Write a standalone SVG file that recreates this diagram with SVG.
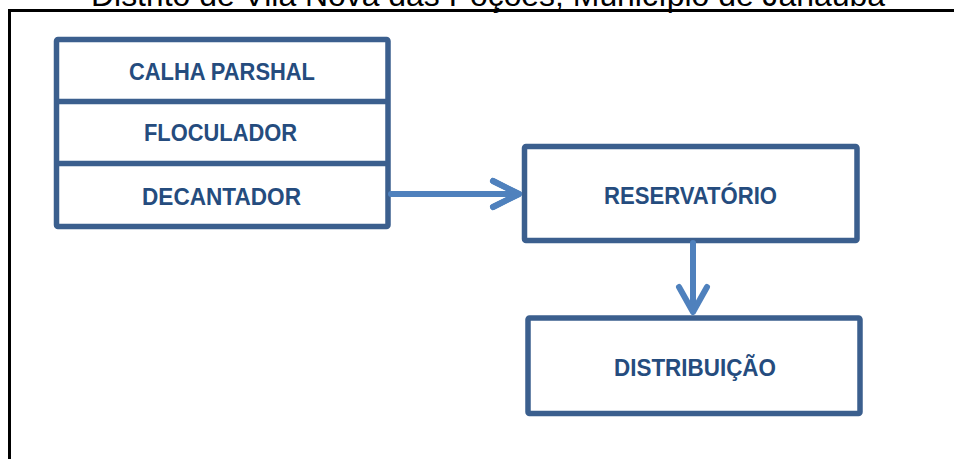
<svg xmlns="http://www.w3.org/2000/svg" width="954" height="459" viewBox="0 0 954 459">
  <defs>
    <style>
      .box { fill: #ffffff; stroke: #3B5F8E; stroke-width: 5.5; stroke-linejoin: round; }
      .div { stroke: #3B5F8E; stroke-width: 5.5; }
      .lbl { font-family: "Liberation Sans", Arial, sans-serif; font-weight: bold; font-size: 24.5px; fill: #254C7E; text-anchor: middle; }
      .flow { fill: none; stroke: #4F81BD; stroke-width: 6; stroke-linecap: round; stroke-linejoin: round; }
      .title { font-family: "Liberation Sans", Arial, sans-serif; font-size: 32px; fill: #000000; text-anchor: middle; }
    </style>
  </defs>
  <rect width="954" height="459" fill="#ffffff"/>

  <!-- page title and frame -->
  <text class="title" x="488" y="6" textLength="794" lengthAdjust="spacingAndGlyphs">Distrito de Vila Nova das Poções, Município de Janaúba</text>
  <path d="M9.5 459 V10.5 H954" fill="none" stroke="#000000" stroke-width="3"/>

  <!-- treatment stack -->
  <g id="treatment">
    <rect class="box" x="56.5" y="39.5" width="331.5" height="187" rx="1.5"/>
    <line class="div" x1="56.5" y1="101.5" x2="388" y2="101.5"/>
    <line class="div" x1="56.5" y1="163.5" x2="388" y2="163.5"/>
    <text id="calha" class="lbl" x="222" y="80" textLength="186" lengthAdjust="spacingAndGlyphs">CALHA PARSHAL</text>
    <text id="floculador" class="lbl" x="220.5" y="141" textLength="153" lengthAdjust="spacingAndGlyphs">FLOCULADOR</text>
    <text id="decantador" class="lbl" x="221.5" y="205" textLength="159" lengthAdjust="spacingAndGlyphs">DECANTADOR</text>
  </g>

  <g id="reservatorio">
    <rect class="box" x="524.5" y="146.5" width="332.5" height="94" rx="1.5"/>
    <text class="lbl" x="690.5" y="204" textLength="173" lengthAdjust="spacingAndGlyphs">RESERVATÓRIO</text>
  </g>

  <g id="distribuicao">
    <rect class="box" x="528" y="318" width="332" height="95.5" rx="1.5"/>
    <text class="lbl" x="695" y="376" textLength="162" lengthAdjust="spacingAndGlyphs">DISTRIBUIÇÃO</text>
  </g>

  <!-- connectors -->
  <g id="connectors">
    <path class="flow" d="M391 194 H518 M493 181 L519 194 L493 207" stroke-linecap="butt"/>
    <path class="flow" d="M493 181 L519 194 L493 207"/>
    <path class="flow" d="M693 243 V311" stroke-linecap="butt"/>
    <path class="flow" d="M679 287 L693 312 L707 287"/>
  </g>
</svg>
